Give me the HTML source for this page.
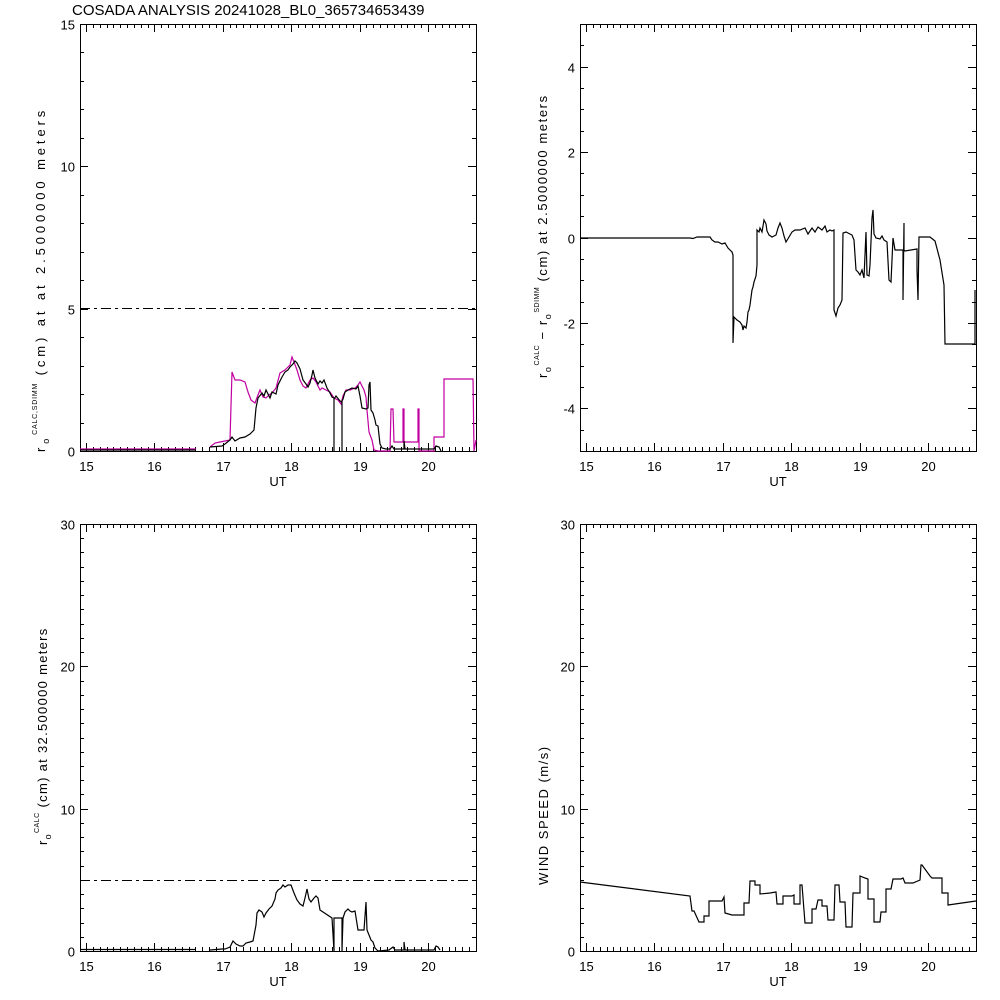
<!DOCTYPE html>
<html><head><meta charset="utf-8"><style>
html,body{margin:0;padding:0;background:#fff;}
svg{display:block;font-family:"Liberation Sans",sans-serif;}
text{font-size:13px;fill:#000;}
</style></head><body>
<svg id="s" width="1000" height="1000" xmlns="http://www.w3.org/2000/svg">
<rect width="1000" height="1000" fill="#fff"/>
<text x="72" y="15" style="font-size:15px">COSADA ANALYSIS 20241028_BL0_365734653439</text>
<g id="g" stroke="#000" stroke-width="1" fill="none" shape-rendering="crispEdges"></g>
<line x1="80" y1="308.5" x2="476" y2="308.5" stroke="#000" stroke-dasharray="10,4,3,4"/>
<line x1="80" y1="880.5" x2="476" y2="880.5" stroke="#000" stroke-dasharray="10,4,3,4"/>
<polyline fill="none" stroke="#c000a0" stroke-width="1.2" points="80,449 196,449"/>
<polyline fill="none" stroke="#c000a0" stroke-width="1.2" points="210,447 215,443 220,442 225,441 230,440 232,372 235,380 240,380 245,382 248,392 251,400 255,403 258,395 260,390 263,397 266,398 269,395 272,393 276,388 280,373 285,370 290,365 292,357 294,362 297,370 300,380 303,386 306,388 310,380 313,378 316,382 320,390 322,388 326,390 330,392 334,398 338,400 341,404 343,396 346,390 350,390 355,388 358,385 360,382 362,386 364,390 366,397 367,410 369,432 372,440 374,450 378,451 390,451 391,409 393,409 394,442 403,442 403,409 404,409 404,442 418,442 418,409 419,409 419,451 434,451 434,437 444,437 444,379 473,379 474,451 476,440"/>
<polyline fill="none" stroke="#000" stroke-width="1.2" points="80,450 196,450"/>
<polyline fill="none" stroke="#000" stroke-width="1.2" points="210,447 222,446 225,444 230,440 232,437 235,441 240,438 245,437 250,434 254,430 256,408 258,398 262,393 264,396 266,390 270,398 272,392 276,394 278,385 282,377 285,372 288,370 290,367 293,364 295,361 297,363 300,369 303,380 306,384 308,387 310,383 312,375 313,370 315,378 318,384 320,381 322,383 324,380 327,388 330,393 332,397 334,398 334,451 334,399 336,396 340,401 342,402 342,451 342,401 343,399 345,392 348,390 352,388 356,389 358,386 360,396 362,408 366,409 368,408 369,385 370,382 371,410 373,413 375,420 376,425 378,426 380,444 382,448 386,449 390,449 392,446 394,449 404,449 404,441 405,449 434,449 436,446 439,447 441,451"/>
<polyline fill="none" stroke="#000" stroke-width="1.2" points="580,238 680,238 690,238 693,238.5 697,237 710,237 712,240 715,242 718,242 722,244 725,243 728,248 730,250 732,252 733,255 733,343 734,317 735,318 737,320 740,322 742,325 743,330 744,326 746,328 747,322 748,312 749,310 750,305 752,290 753,287 754,282 756,276 757,265 757,230 759,232 760,228 762,232 764,220 766,224 767,231 769,235 772,237 776,235 778,228 780,223 782,228 784,236 786,242 789,237 792,232 795,230 800,230 805,228 808,234 812,228 815,232 818,227 822,230 825,226 827,232 830,230 832,231 834,230 834,310 836,316 838,308 840,305 842,300 843,233 846,232 850,234 852,235 854,240 856,270 858,272 860,275 862,270 864,278 866,232 867,275 869,276 870,265 872,218 873,210 874,234 876,238 880,239 882,236 884,240 887,242 889,280 891,282 893,238 895,250 903,250 903,300 904,223 904,250 905,251 917,249 917,270 918,300 919,237 930,237 935,241 940,260 944,285 945,344 975,344 975,290"/>
<polyline fill="none" stroke="#000" stroke-width="1.2" points="80,949.5 196,949.5"/>
<polyline fill="none" stroke="#000" stroke-width="1.2" points="210,950 222,949 225,949 230,947 233,941 236,944 240,946 243,946 246,943 250,942 253,941 256,925 257,913 259,910 262,912 264,917 266,913 269,909 272,906 275,899 276,893 278,890 281,888 283,885 285,887 288,885 291,885 294,893 297,900 300,904 303,906 305,898 307,889 309,899 311,902 314,898 316,896 318,898 320,910 332,918 334,951 334,918 342,918 342,951 343,918 345,912 348,909 350,911 352,912 355,911 358,930 364,930 366,902 367,930 369,935 371,940 373,942 375,948 378,951 389,950 393,947 395,950 404,950 404,942 405,950 434,950 436,946 438,947 440,950"/>
<polyline fill="none" stroke="#000" stroke-width="1.2" points="580,882 690,896 692,911 694,911 699,922 704,922 704,916 709,916 709,901 722,901 724,897 725,913 732,915 744,915 744,903 749,903 750,881 755,881 755,885 760,885 760,894 770,893 776,892 777,904 783,904 783,896 792,896 794,895 794,904 800,904 800,885 802,885 805,923 812,923 812,909 816,909 818,900 822,900 822,906 827,906 828,920 834,920 835,885 839,885 840,902 845,902 846,927 852,927 853,893 860,893 860,876 865,878 868,879 868,899 874,899 874,922 880,922 881,912 886,912 886,889 891,889 893,879 901,879 903,878 905,883 913,883 920,880 921,865 922,865 930,876 932,878 942,878 942,893 948,893 948,905 955,904 976,901"/>
<text transform="translate(45,452) rotate(-90)" style="letter-spacing:3.9px">r<tspan dy="4" style="font-size:9px">o</tspan><tspan dy="-12" style="font-size:7px;letter-spacing:0.8px">CALC,SDIMM</tspan><tspan dy="8"> (cm) at  at 2.5000000 meters</tspan></text>
<text transform="translate(547,378) rotate(-90)" style="letter-spacing:1.6px">r<tspan dy="4" style="font-size:9px">o</tspan><tspan dy="-12" style="font-size:7px;letter-spacing:0.5px">CALC</tspan><tspan dy="8"> − r</tspan><tspan dy="4" style="font-size:9px">o</tspan><tspan dy="-12" style="font-size:7px;letter-spacing:0.5px">SDIMM</tspan><tspan dy="8"> (cm) at 2.5000000 meters</tspan></text>
<text transform="translate(47,845) rotate(-90)" style="letter-spacing:1.3px">r<tspan dy="4" style="font-size:9px">o</tspan><tspan dy="-12" style="font-size:7px;letter-spacing:0.5px">CALC</tspan><tspan dy="8"> (cm) at 32.500000 meters</tspan></text>
<text transform="translate(548,885) rotate(-90)" style="letter-spacing:1.5px">WIND SPEED (m/s)</text>
</svg>
<script>
var g=document.getElementById('g'),s=document.getElementById('s'),NS='http://www.w3.org/2000/svg';
function L(x1,y1,x2,y2){var l=document.createElementNS(NS,'line');l.setAttribute('x1',x1);l.setAttribute('y1',y1);l.setAttribute('x2',x2);l.setAttribute('y2',y2);g.appendChild(l);}
function T(x,y,t,a){var e=document.createElementNS(NS,'text');e.setAttribute('x',x);e.setAttribute('y',y);e.setAttribute('text-anchor',a);e.textContent=t;s.appendChild(e);}
function panel(L0,T0,ymin,ymax,major,minor){
 var R=L0+396,B=T0+427;
 L(L0+.5,T0,L0+.5,B);L(R+.5,T0,R+.5,B+1);L(L0,T0+.5,R,T0+.5);L(L0,B+.5,R+1,B+.5);
 for(var k=0;k<=57;k++){var t=15+k*0.1;var x=Math.round(L0+6+68.4*(t-15))+.5;if(x>R)break;var len=(k%10==0)?8:4;
  L(x,B,x,B-len);L(x,T0,x,T0+len);
  if(k%10==0)T(x,B+20,String(15+k/10),'middle');}
 T(L0+198,B+35,'UT','middle');
 var n=Math.round((ymax-ymin)/minor);
 for(var i=0;i<=n;i++){var v=ymin+i*minor;var y=Math.round(B-(v-ymin)/(ymax-ymin)*427)+.5;
  var isM=Math.abs(v/major-Math.round(v/major))<1e-6;var len=isM?8:4;
  L(L0,y,L0+len,y);L(R,y,R-len,y);
  if(isM)T(L0-5,y+5,String(Math.round(v)),'end');}
}
panel(80,24,0,15,5,1);
panel(580,24,-5,5,2,0.5);
panel(80,524,0,30,10,1);
panel(580,524,0,30,10,1);
</script>
</body></html>
